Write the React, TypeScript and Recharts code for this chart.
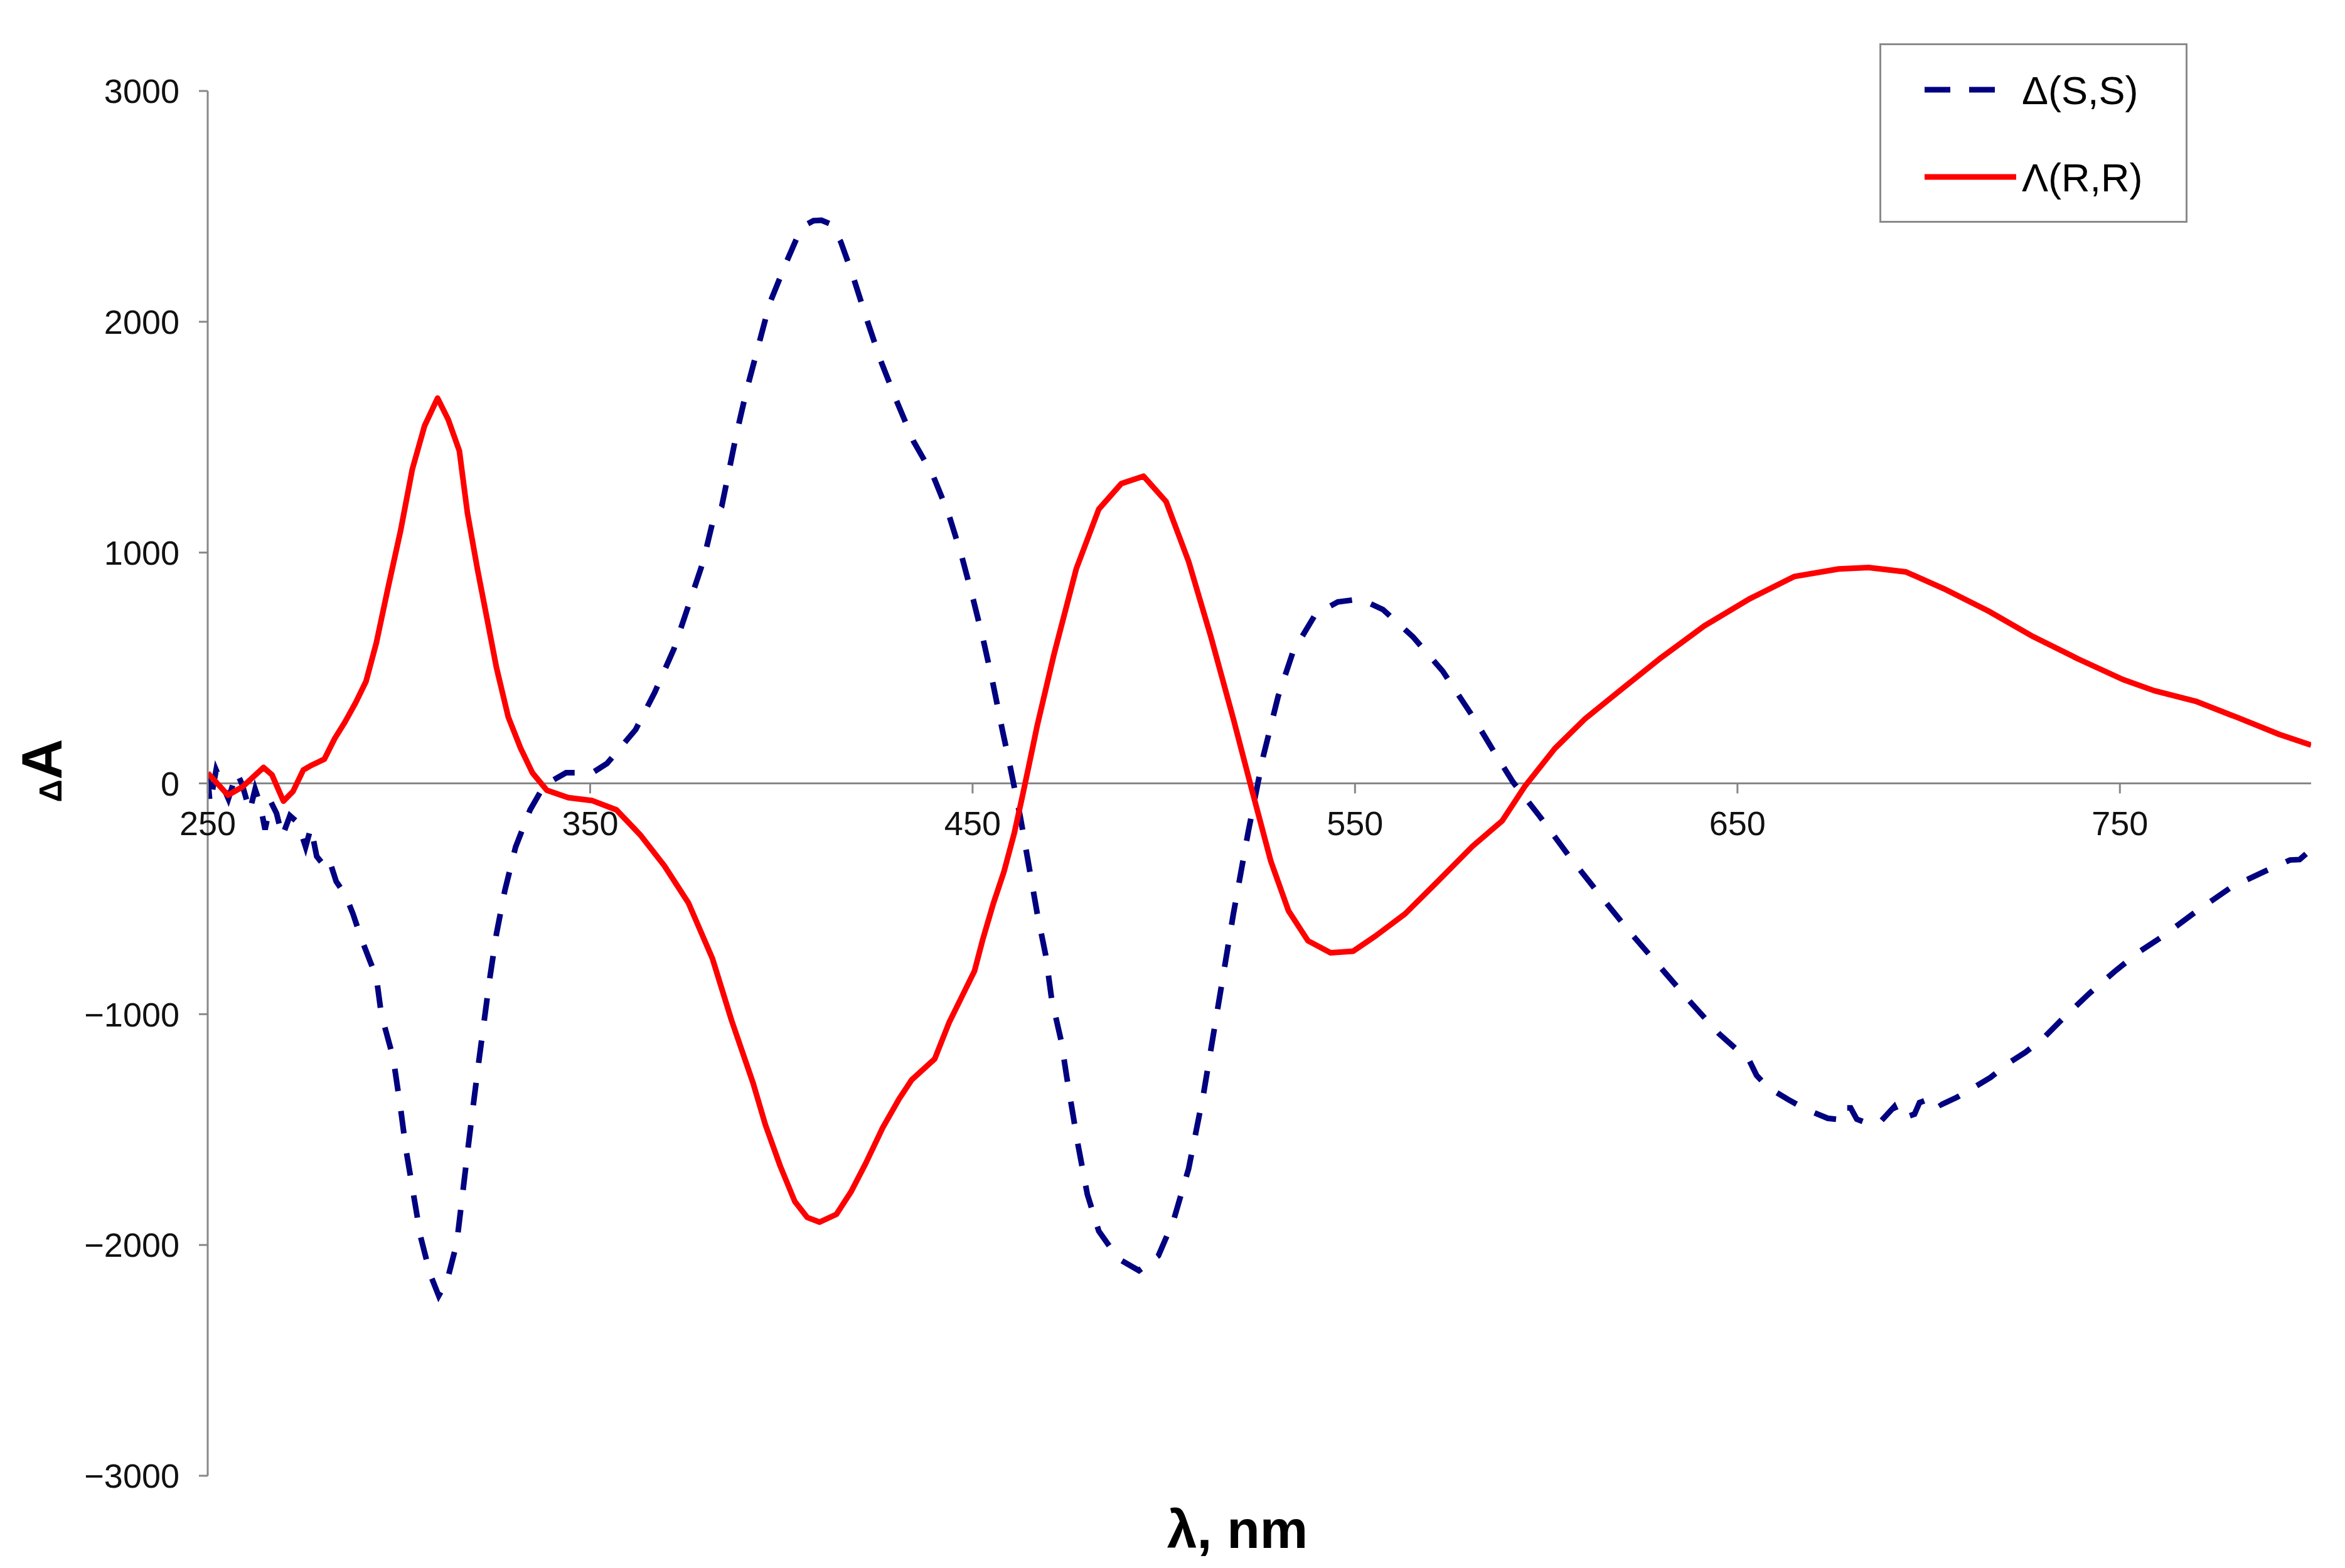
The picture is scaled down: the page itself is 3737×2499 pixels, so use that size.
import React from "react";
import { LineChart, Line, XAxis, YAxis, ReferenceLine } from "recharts";

// ---- data ----
const seriesNames = ["Δ(S,S)", "Λ(R,R)"];
const seriesColors = ["#000080", "#FF0000"];

const ssNm = [
  250.0, 250.6, 252.2, 255.4, 257.6, 259.0, 261.0, 262.4, 263.7, 265.0, 266.5, 268.0, 269.5, 271.5,
  273.6, 275.6, 277.0, 278.5, 280.5, 281.8, 283.6, 286.0, 288.0, 290.1, 292.3, 294.1, 295.4, 298.5,
  300.4, 301.9, 303.8, 305.7, 308.2, 310.4, 312.6, 315.1, 316.5, 318.0, 319.4, 320.8, 322.3, 323.8,
  325.5, 327.7, 330.5, 334.3, 338.0, 343.7, 350.6, 354.4, 361.9, 366.9, 371.9, 375.7, 379.5, 382.0,
  384.4, 386.0, 388.2, 390.9, 393.9, 396.9, 401.3, 404.5, 406.8, 408.4, 410.5, 412.8, 415.5, 418.5,
  422.1, 425.9, 430.0, 434.6, 439.6, 443.7, 447.2, 450.2, 453.0, 455.4, 457.8, 459.8, 462.5, 464.7,
  466.9, 469.1, 470.7, 473.2, 474.6, 477.5, 480.0, 483.0, 488.1, 493.5, 498.6, 502.5, 506.5, 510.4,
  514.3, 518.2, 522.1, 526.0, 529.9, 533.8, 539.7, 545.5, 551.4, 557.3, 565.1, 572.9, 580.7, 586.6,
  591.3, 598.3, 606.1, 613.9, 621.8, 629.6, 637.4, 645.2, 653.1, 655.0, 657.8, 663.2, 667.6, 673.6,
  675.8, 676.5, 679.6, 681.2, 684.3, 687.5, 691.0, 692.5, 696.3, 697.6, 702.0, 703.3, 707.4, 711.2,
  716.2, 720.6, 725.3, 729.8, 735.0, 742.0, 749.0, 755.0, 761.6, 769.8, 779.2, 787.9, 794.5, 797.0,
  799.6,
];
const ssVal = [
  30, -90, 58, -67, 48, -4, -120, -25, -90, -200, -80, -130, -230, -140,
  -171, -275, -191, -316, -358, -332, -425, -483, -566, -670, -764, -840, -1001, -1189,
  -1404, -1592, -1780, -1967, -2128, -2220, -2155, -1994, -1800, -1590, -1400, -1216, -1028, -840,
  -652, -464, -276, -115, -8, 46, 46, 86, 233, 395, 582, 770, 958, 1130,
  1200, 1329, 1509, 1703, 1890, 2078, 2258, 2380, 2424, 2438, 2440, 2424, 2348, 2209,
  2022, 1835, 1662, 1481, 1336, 1169, 982, 795, 607, 427, 230, 75, -147, -355,
  -563, -743, -937, -1118, -1270, -1560, -1780, -1940, -2059, -2111, -2046, -1896, -1669, -1344,
  -955, -565, -208, 117, 377, 571, 734, 786, 799, 753, 636, 487, 292, 130,
  6, -143, -318, -481, -643, -792, -942, -1085, -1201, -1265, -1315, -1369, -1410, -1451,
  -1455, -1406, -1406, -1455, -1474, -1464, -1401, -1455, -1433, -1383, -1356, -1392, -1360, -1324,
  -1274, -1215, -1165, -1107, -1020, -910, -810, -730, -658, -557, -449, -381, -332, -330,
  -292,
];

const rrNm = [
  250.0, 255.3, 259.1, 264.6, 266.8, 269.8, 272.3, 275.0, 277.2, 280.5, 283.2, 285.9, 288.7, 291.4,
  294.1, 297.2, 300.4, 303.5, 306.7, 310.1, 312.9, 315.8, 317.9, 320.5, 323.0, 325.5, 328.6, 331.8,
  334.9, 338.7, 344.3, 350.6, 356.9, 363.1, 369.4, 375.7, 382.0, 387.0, 392.6, 395.8, 399.7, 403.5,
  406.8, 410.0, 414.4, 418.2, 422.1, 426.5, 430.8, 434.1, 440.1, 443.9, 447.2, 450.5, 452.7, 455.4,
  458.2, 460.9, 463.1, 464.7, 466.9, 471.3, 477.1, 483.0, 488.9, 494.7, 500.6, 506.5, 512.3, 518.2,
  523.3, 528.0, 532.6, 537.7, 543.6, 549.5, 555.3, 563.1, 571.0, 580.7, 588.5, 594.4, 602.2, 610.1,
  619.8, 629.6, 641.3, 653.1, 664.8, 676.5, 684.3, 694.1, 703.9, 715.6, 727.3, 739.1, 750.8, 758.9,
  769.8, 780.8, 791.7, 800.0,
];
const rrVal = [
  45, -51, -15, 69, 37, -77, -35, 58, 79, 105, 194, 266, 350, 442,
  609, 851, 1092, 1361, 1549, 1669, 1576, 1441, 1173, 931, 717, 502, 287, 153,
  46, -30, -62, -75, -115, -223, -357, -518, -760, -1028, -1298, -1478, -1658, -1811,
  -1881, -1901, -1867, -1770, -1645, -1492, -1367, -1284, -1194, -1035, -924, -813, -674, -522,
  -383, -216, -50, 75, 250, 560, 929, 1188, 1299, 1331, 1221, 961, 636, 279,
  -45, -338, -552, -682, -734, -727, -662, -565, -435, -273, -162, -13, 150, 279,
  409, 539, 682, 799, 896, 929, 935, 916, 844, 747, 636, 539, 450, 402,
  356, 285, 212, 166,
];

const xTicks = [250, 350, 450, 550, 650, 750];
const yTicks = [-3000, -2000, -1000, 0, 1000, 2000, 3000];
const X_DOMAIN = [250, 800];
const Y_DOMAIN = [-3000, 3000];

// ---- layout ----
const W = 3737;
const H = 2499;
const PLOT_LEFT = 331;
const PLOT_RIGHT = 3683;
const PLOT_TOP = 145;
const PLOT_BOTTOM = 2352;
const PLOT_H = PLOT_BOTTOM - PLOT_TOP;
const ZERO_Y = PLOT_TOP + (PLOT_H * (Y_DOMAIN[1] - 0)) / (Y_DOMAIN[1] - Y_DOMAIN[0]);
const X_AXIS_H = 60;
const AXIS_COLOR = "#878787";
const FONT = "'Liberation Sans', Arial, sans-serif";
const LINE_W = 9;

const ssData = ssNm.map((nm, i) => ({ nm, v: ssVal[i] }));
const rrData = rrNm.map((nm, i) => ({ nm, v: rrVal[i] }));

const fmtY = (v: number) => (v < 0 ? "\u2212" + Math.abs(v) : String(v));

const XTick = (props: any) => {
  const { x, payload } = props;
  return (
    <g>
      <line x1={x} x2={x} y1={ZERO_Y} y2={ZERO_Y + 16} stroke={AXIS_COLOR} strokeWidth={3} />
      <text x={x} y={ZERO_Y + 82} textAnchor="middle" fontSize={54} fontFamily={FONT} fill="#111">
        {payload.value}
      </text>
    </g>
  );
};

const XLabel = () => (
  <text x={1972} y={2467} textAnchor="middle" fontSize={86} fontWeight="bold" fontFamily={FONT} fill="#000">
    λ, nm
  </text>
);

const YLabel = () => (
  <text
    x={98}
    y={1228}
    transform="rotate(-90, 98, 1228)"
    textAnchor="middle"
    fontWeight="bold"
    fontFamily={FONT}
    fill="#000"
  >
    <tspan fontSize={50}>Δ</tspan>
    <tspan fontSize={90}>A</tspan>
  </text>
);

const LegendBox = () => {
  const left = 2995;
  const top = 69;
  const w = 491;
  const h = 286;
  const rows = [74, 213];
  return (
    <svg width={w} height={h} style={{ position: "absolute", left, top }}>
      <rect x={1.5} y={1.5} width={w - 3} height={h - 3} fill="#fff" stroke="#8a8a8a" strokeWidth={3} />
      {seriesNames.map((name, i) => (
        <g key={name}>
          <line
            x1={72}
            x2={i === 0 ? 184 : 218}
            y1={rows[i]}
            y2={rows[i]}
            stroke={seriesColors[i]}
            strokeWidth={LINE_W}
            strokeDasharray={i === 0 ? "41 30" : undefined}
          />
          <text x={227} y={rows[i] + 23} fontSize={63} fontFamily={FONT} fill="#000">
            {name}
          </text>
        </g>
      ))}
    </svg>
  );
};

export default function App() {
  return (
    <div style={{ position: "absolute", left: 0, top: 0, width: W, height: H, background: "#fff" }}>
      <LineChart
        width={W}
        height={H}
        margin={{ top: PLOT_TOP, right: W - PLOT_RIGHT, bottom: H - PLOT_BOTTOM - X_AXIS_H, left: 0 }}
      >
        <XAxis
          type="number"
          dataKey="nm"
          domain={X_DOMAIN}
          ticks={xTicks}
          axisLine={false}
          tickLine={false}
          tick={<XTick />}
          height={X_AXIS_H}
          interval={0}
          allowDataOverflow
          label={XLabel}
        />
        <YAxis
          type="number"
          domain={Y_DOMAIN}
          ticks={yTicks}
          interval={0}
          width={PLOT_LEFT}
          tickFormatter={fmtY}
          tickSize={14}
          tickMargin={31}
          axisLine={{ stroke: AXIS_COLOR, strokeWidth: 3 }}
          tickLine={{ stroke: AXIS_COLOR, strokeWidth: 3 }}
          tick={{ fontSize: 54, fontFamily: FONT, fill: "#111" }}
          allowDataOverflow
          label={YLabel}
        />
        <ReferenceLine y={0} stroke={AXIS_COLOR} strokeWidth={3} />
        <Line
          data={ssData}
          dataKey="v"
          name={seriesNames[0]}
          type="linear"
          stroke={seriesColors[0]}
          strokeWidth={LINE_W}
          strokeDasharray="36 32"
          dot={false}
          activeDot={false}
          isAnimationActive={false}
        />
        <Line
          data={rrData}
          dataKey="v"
          name={seriesNames[1]}
          type="linear"
          stroke={seriesColors[1]}
          strokeWidth={LINE_W}
          strokeLinejoin="round"
          dot={false}
          activeDot={false}
          isAnimationActive={false}
        />
      </LineChart>
      <LegendBox />
    </div>
  );
}
